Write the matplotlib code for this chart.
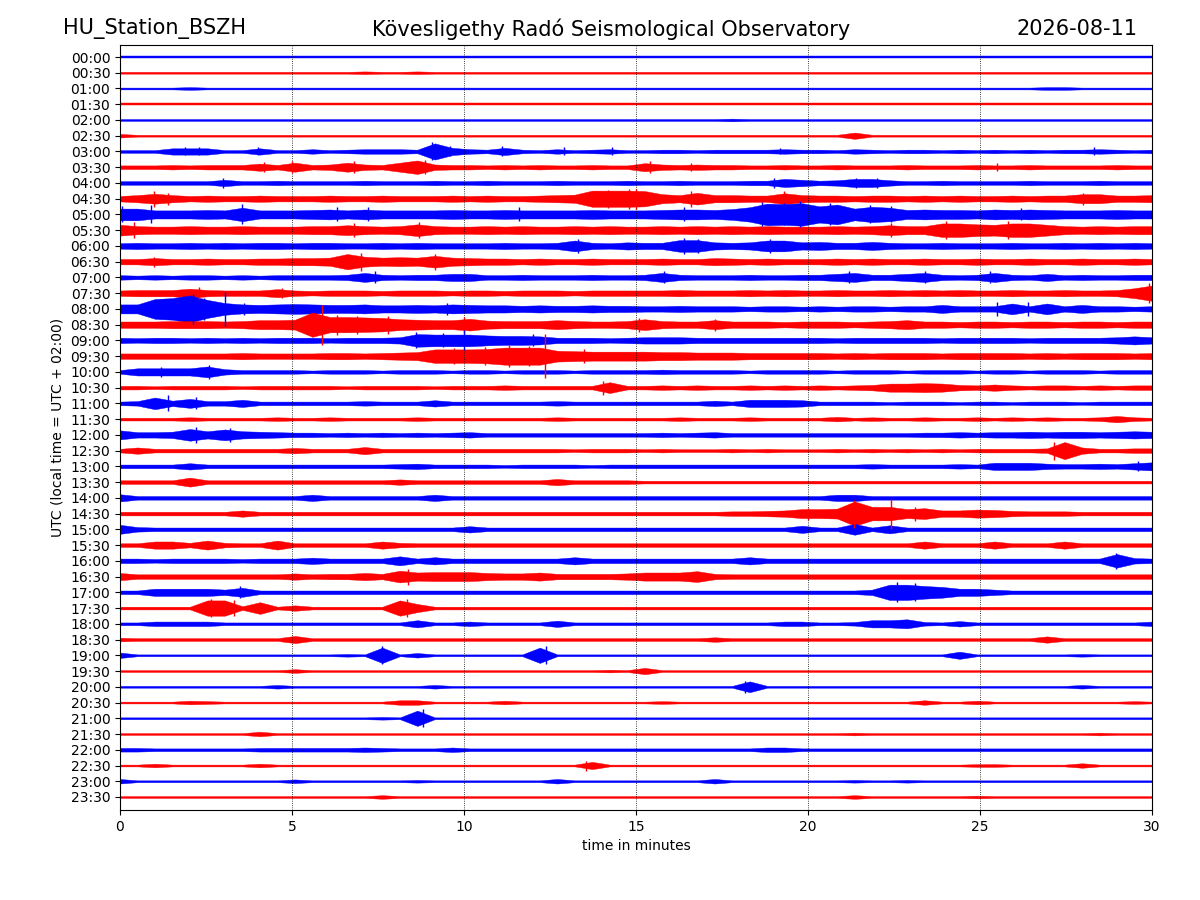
import numpy as np
import matplotlib
matplotlib.use("Agg")
import matplotlib.pyplot as plt

# 24h helicorder, one 30-minute line per row
station = "HU_Station_BSZH"
observatory = "Kövesligethy Radó Seismological Observatory"
day = "2026-08-11"

row_labels = ["%02d:%02d" % (h, m) for h in range(24) for m in (0, 30)]
row_colors = ["blue", "red"] * 24

# trace envelope: one char per 30 s, base-36,
# half-height in units of 0.5 px (groups of 10 = 5 minutes)
envelopes = [
    "2222222222 2222222222 2222222222 2222222222 2222222222 2222222222",
    "2222222222 2222322322 2222222222 2222222222 2222222222 2222222222",
    "2222322222 2222222222 2222222222 2222222222 2222222222 2223322222",
    "2222222222 2222222222 2222222222 2222222222 2222222222 2222222222",
    "2222222222 2222222222 2222222222 2222232222 2222222222 2222222222",
    "4222222222 2222222222 2222222222 2222222222 2272222222 2222222222",
    "3337773373 35345554i8 5484353453 3443444454 4354344343 4343445434",
    "4445455585 a56a65af65 5454544544 9656554454 4544454445 4454444544",
    "4444447445 4444544454 4544454445 4454445597 5699644544 4454445444",
    "68b8676676 6676676667 6766789iii ha8d8877c8 7767767676 67677aa778",
    "dd999a9f99 9ab9b9999a 99a9999a99 9abbacgonp imdhfabaa9 baba999a99",
    "c988988988 899b989d98 8989889898 8989898988 8989b99ffd cffc989899",
    "6766767677 6776676766 667667c768 77dd878cc8 9779766766 6766767676",
    "6686676677 889hb9a9d9 8776766766 6766876766 6767667667 6676676676",
    "5454554545 5556a65668 8556555655 6a65556556 68a668a656 a658565566",
    "6777a76669 6566656665 6656665666 6676667676 6766767676 67667667bh",
    "aamoukda9a ba99a8898a 9887877877 6676665665 6566566966 6c6c696656",
    "77788878aa brhhgfcbaa d9888a8778 c877a77767 77678a7767 7677677677",
    "6566565656 6656667edd dbaa966656 7776666666 6566666566 6656666797",
    "6666666766 66776789ff fgjjjcbaaa a998887777 7676777677 7767677767",
    "48888c6444 4344434443 4434443444 4544443444 4344434443 4434443444",
    "4434444344 4443444434 44544444c4 4545445454 545699a965 7545545455",
    "45d6a55844 4444544474 4444454444 4444648887 4444344434 4344434444",
    "3333433334 3343333433 3333343333 3343334333 3534334334 3434334743",
    "a667d8c876 5545454545 6444444444 4545644444 4444445565 6676776787",
    "4744444444 6444844444 4444443444 3433343433 3434343434 4445j74455",
    "4444744444 4444445644 4434444344 4444444444 4445444454 8886556579",
    "4444a44444 4444446444 4444474444 3333333333 3333333333 3333333333",
    "8444444444 4744444474 4444444444 4444444444 4774444444 4444444444",
    "4444444744 4444444444 4444444444 444445567a abrffac779 8655544444",
    "a544444444 4444444444 7444444444 4444444448 44c4944444 4444444444",
    "44885a544a 4444485444 4444444444 4444444444 4444448444 8444844444",
    "5545555455 575555a585 5555558555 5555558555 5555555555 5555555f65",
    "8555555555 756686d9aa a877966667 999c655555 5555555555 5555555555",
    "4488886a44 4444444444 4444444444 4444444444 4446hhec88 6444444444",
    "33333hh4d3 633333h933 3333333333 3333333333 3333333333 3333333333",
    "3355553333 3333333833 5333373333 3333333355 33488a4363 3333333335",
    "4333333333 8333333333 3333333333 3333533333 3333333333 3337333333",
    "6222222222 22232h2522 2222h22222 2222222222 2222222282 2222232222",
    "2222222222 4222222222 2222222232 7222222222 2222222222 2222222222",
    "2222222224 2222222242 2222222222 222222c222 2222222222 2222242222",
    "2222432222 2222225522 2242222222 2322222222 2222225224 2222222232",
    "2222222222 2222232h22 2222222222 2222222222 2222222222 2222222222",
    "2222222252 2222222222 2222222222 2222222222 2232222222 2222223222",
    "4433333344 4444543335 3333333333 3333333553 3333333333 3333333333",
    "2242222242 2222222222 2222222822 2222222222 2222222223 3222252222",
    "5222222222 4222222322 2222252222 2222522222 2232232222 2222222222",
    "2222222222 2222242222 2222222222 2222222222 2242222223 2222222222",
]

# single wiggles: (row, minute, half-height px)
spikes = [
    (6, 9.06, 9), (6, 1.9, 4), (6, 2.3, 4), (6, 4.0, 4), (6, 9.6, 5),
    (6, 11.1, 5), (6, 12.9, 4), (6, 14.3, 4), (6, 19.2, 3), (6, 28.3, 4),
    (7, 8.86, 7), (7, 4.2, 5), (7, 5.0, 6), (7, 6.8, 6), (7, 8.3, 5),
    (7, 15.4, 6), (7, 16.6, 4), (7, 25.5, 4),
    (8, 3.0, 5), (8, 19.0, 5), (8, 21.4, 5), (8, 22.0, 5),
    (9, 15.0, 10), (9, 1.0, 8), (9, 1.4, 6), (9, 14.2, 9), (9, 14.8, 10),
    (9, 16.6, 8), (9, 19.3, 8), (9, 28.0, 6),
    (10, 18.65, 12), (10, 19.77, 13), (10, 0.05, 8), (10, 0.9, 9),
    (10, 3.55, 10), (10, 6.3, 7), (10, 7.2, 7), (10, 11.6, 7), (10, 16.4, 7),
    (10, 19.3, 11), (10, 20.65, 11), (10, 21.8, 9), (10, 22.4, 8), (10, 26.2, 6),
    (11, 0.4, 8), (11, 6.8, 7), (11, 8.7, 8), (11, 22.4, 7), (11, 24.0, 9),
    (11, 25.8, 9),
    (12, 13.3, 7), (12, 16.4, 8), (12, 16.8, 7), (12, 18.9, 7),
    (13, 7.0, 9), (13, 9.15, 8), (13, 1.0, 5),
    (14, 7.4, 6), (14, 15.8, 6), (14, 21.2, 6), (14, 23.4, 6), (14, 25.3, 6),
    (15, 29.9, 10), (15, 2.3, 6), (15, 4.7, 5),
    (16, 3.05, 17), (16, 2.13, 15), (16, 1.2, 10), (16, 1.9, 12),
    (16, 2.45, 11), (16, 3.6, 6), (16, 9.5, 6), (16, 25.5, 7), (16, 26.4, 7),
    (17, 5.86, 20), (17, 6.3, 10), (17, 6.9, 9), (17, 7.8, 9), (17, 10.0, 8),
    (17, 15.1, 7), (17, 17.3, 6),
    (18, 10.0, 10), (18, 8.6, 8), (18, 9.4, 7), (18, 12.0, 6),
    (19, 12.35, 22), (19, 9.7, 8), (19, 10.6, 9), (19, 11.3, 11),
    (19, 11.9, 10), (19, 13.5, 7),
    (20, 2.6, 7), (20, 1.2, 5),
    (21, 14.05, 7),
    (22, 1.4, 8), (22, 2.2, 6),
    (24, 2.2, 8), (24, 3.2, 7),
    (25, 27.15, 9),
    (26, 29.6, 5),
    (29, 21.35, 14), (29, 22.4, 15), (29, 20.0, 6), (29, 23.1, 7),
    (32, 28.95, 8),
    (33, 8.38, 8),
    (34, 22.6, 10), (34, 23.1, 9), (34, 3.5, 6),
    (35, 2.65, 9), (35, 3.3, 8), (35, 8.35, 9),
    (38, 7.62, 9), (38, 12.38, 9),
    (40, 18.17, 6),
    (42, 8.8, 9),
    (45, 13.55, 5),
]

ROW_PX = 15.74  # pixel distance between two rows

fig = plt.figure(figsize=(12, 9), dpi=100)
ax = fig.add_axes([0.1, 0.1, 0.86, 0.85])

for i, env in enumerate(envelopes):
    vals = np.array([int(c, 36) for c in env.replace(" ", "")]) * 0.45 / ROW_PX
    t = np.linspace(0, 30, len(vals))
    ax.fill_between(t, -i - vals, -i + vals, color=row_colors[i], lw=0.3)

for r, m, a in spikes:
    h = a / ROW_PX
    ax.vlines(m, -r - h, -r + h, color=row_colors[r], lw=1.0)

ax.set_xlim(0, 30)
ax.set_ylim(-47 - 13 / ROW_PX, 12 / ROW_PX)
ax.set_yticks(-np.arange(48))
ax.set_yticklabels(row_labels)
ax.set_xticks([0, 5, 10, 15, 20, 25, 30])
ax.grid(axis="x", linestyle=":", color="black", lw=0.6)
ax.set_xlabel("time in minutes")
ax.set_ylabel("UTC (local time = UTC + 02:00)")

fig.text(0.0525, 0.968, station, fontsize=15, ha="left", va="center")
fig.text(0.509, 0.968, observatory, fontsize=15, ha="center", va="center")
fig.text(0.948, 0.968, day, fontsize=15, ha="right", va="center")

fig.savefig("out.png", dpi=100)
